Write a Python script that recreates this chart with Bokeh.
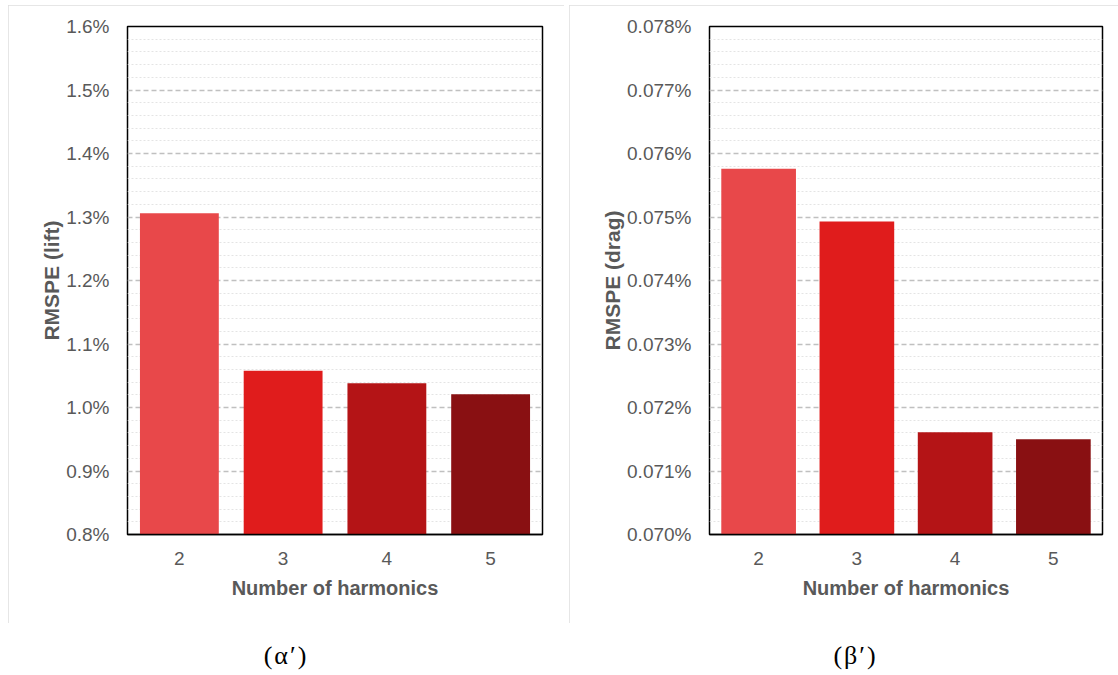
from bokeh.plotting import figure
from bokeh.models import Range1d, FixedTicker, PrintfTickFormatter, Div, ColumnDataSource, Spacer
from bokeh.layouts import row, column
from bokeh.embed import file_html
from bokeh.resources import INLINE

# ---- data ----
categories = ["2", "3", "4", "5"]
lift_rmspe = [1.306, 1.058, 1.038, 1.021]          # %
drag_rmspe = [0.07576, 0.07493, 0.07161, 0.07150]  # %
bar_colors = ["#E8484A", "#E01C1C", "#B41416", "#891012"]

lift_major = [0.8, 0.9, 1.0, 1.1, 1.2, 1.3, 1.4, 1.5, 1.6]
drag_major = [0.070, 0.071, 0.072, 0.073, 0.074, 0.075, 0.076, 0.077, 0.078]

x_title = "Number of harmonics"
lift_title = "RMSPE (lift)"
drag_title = "RMSPE (drag)"
captions = ["(\u03b1\u2032)", "(\u03b2\u2032)"]

FONT = "Liberation Sans"
GRAY = "#595959"


def make_panel(vals, major, fmt, ylabel, width, mbl, mbr):
    step = major[1] - major[0]
    minor = []
    for m in major[:-1]:
        for k in range(1, 5):
            minor.append(m + step * k / 5.0)
    p = figure(x_range=categories, y_range=Range1d(major[0], major[-1]),
               width=width, height=618, output_backend="svg", toolbar_location=None,
               min_border_left=mbl, min_border_right=mbr,
               min_border_top=21, min_border_bottom=89,
               styles={"outline": "2px solid #DEDEDE", "outline-offset": "-2px"})
    src = ColumnDataSource(dict(x=categories, top=vals, color=bar_colors))
    p.vbar(x="x", top="top", bottom=major[0], width=0.76, fill_color="color",
           line_color=None, source=src)

    p.xgrid.grid_line_color = None
    p.ygrid.ticker = FixedTicker(ticks=major, minor_ticks=minor)
    p.ygrid.grid_line_color = "#C0C0C0"
    p.ygrid.grid_line_dash = "5 3"
    p.ygrid.grid_line_width = 1.3
    p.ygrid.minor_grid_line_color = "#E4E4E4"
    p.ygrid.minor_grid_line_dash = "2 2"
    p.ygrid.minor_grid_line_width = 1

    p.outline_line_color = "black"
    p.outline_line_width = 1.5

    ya = p.yaxis[0]
    ya.ticker = FixedTicker(ticks=major, minor_ticks=[])
    ya.formatter = PrintfTickFormatter(format=fmt)
    ya.axis_line_color = None
    ya.major_tick_line_color = None
    ya.minor_tick_line_color = None
    ya.major_label_standoff = 12
    ya.major_label_text_font = FONT
    ya.major_label_text_font_size = "19px"
    ya.major_label_text_color = GRAY
    ya.axis_label = ylabel
    ya.axis_label_text_font = FONT
    ya.axis_label_text_font_size = "21px"
    ya.axis_label_text_font_style = "bold"
    ya.axis_label_text_color = GRAY
    ya.axis_label_standoff = 0

    xa = p.xaxis[0]
    xa.axis_line_color = "black"
    xa.axis_line_width = 1.5
    xa.major_tick_line_color = None
    xa.minor_tick_line_color = None
    xa.major_label_standoff = 11
    xa.major_label_text_font = FONT
    xa.major_label_text_font_size = "19px"
    xa.major_label_text_color = GRAY
    xa.axis_label = x_title
    xa.axis_label_text_font = FONT
    xa.axis_label_text_font_size = "20px"
    xa.axis_label_text_font_style = "bold"
    xa.axis_label_text_color = GRAY
    xa.axis_label_standoff = 9
    return p


p1 = make_panel(lift_rmspe, lift_major, "%.1f%%", lift_title, 556, 119, 22)
p2 = make_panel(drag_rmspe, drag_major, "%.3f%%", drag_title, 549, 140, 16)


def cap(text, w, shift):
    return Div(text=('<div style="width:%dpx;text-align:center;font-family:\'Liberation Serif\';'
                     'font-size:26px;line-height:28px;letter-spacing:2px;padding-top:14px;'
                     'margin-left:%dpx;color:#000">%s</div>') % (w, shift, text),
               width=w, height=52)


layout = column(Spacer(height=5),
                row(Spacer(width=8), p1, Spacer(width=5), p2),
                row(Spacer(width=8), cap(captions[0], 556, -5), Spacer(width=5), cap(captions[1], 549, -3)))

open("out.html", "w").write(file_html(layout, INLINE))
